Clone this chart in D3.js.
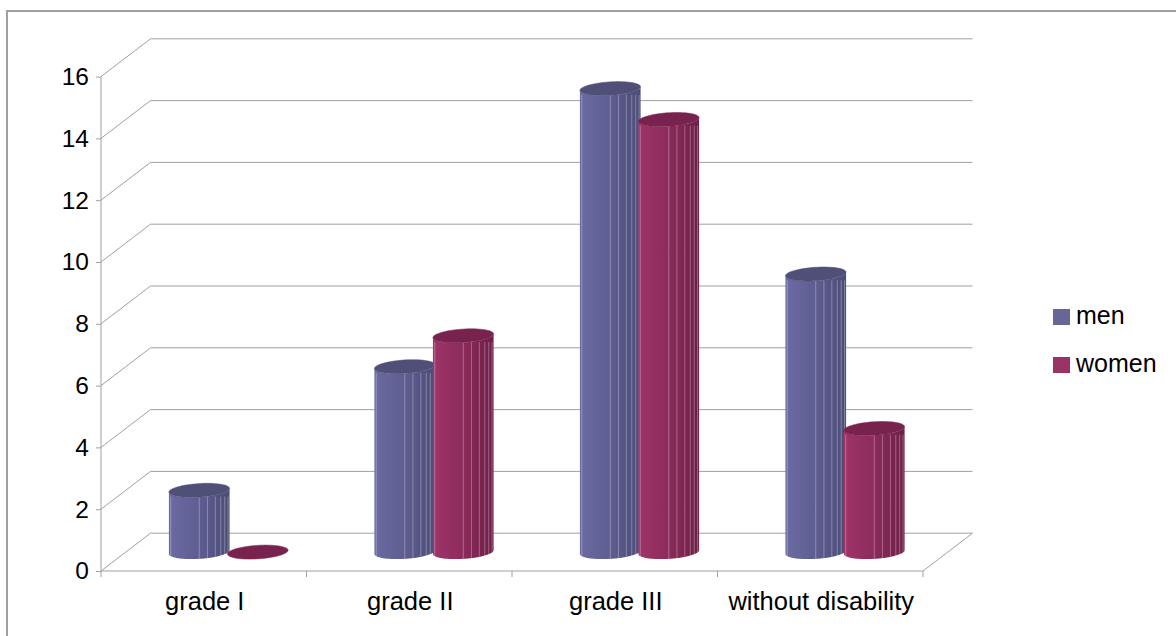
<!DOCTYPE html>
<html>
<head>
<meta charset="utf-8">
<script src="https://cdn.jsdelivr.net/npm/d3@7"></script>
<style>
  html, body { margin: 0; padding: 0; background: #fff; }
  svg { display: block; font-family: "Liberation Sans", Arial, sans-serif; }
</style>
</head>
<body>
<svg id="chart" width="1176" height="636"></svg>
<script>
// Chart data
const categories = ["grade I", "grade II", "grade III", "without disability"];
const seriesNames = ["men", "women"];
const menValues = [2, 6, 15, 9];
const womenValues = [0, 7, 14, 4];
const yTickValues = [0, 2, 4, 6, 8, 10, 12, 14, 16];

const seriesValues = { men: menValues, women: womenValues };

// Colours per series: body gradient stops, top cap, legend swatch
const palette = {
  men:   { light: "#6b6ba3", mid: "#5f5f93", dark: "#4c4c78", top: "#4f4f78", swatch: "#666699" },
  women: { light: "#9f3469", mid: "#8e2c5d", dark: "#6e2047", top: "#78234e", swatch: "#993366" }
};

const svg = d3.select("#chart");

// Outer frame
svg.append("rect")
  .attr("x", 7).attr("y", 11)
  .attr("width", 1250).attr("height", 700)
  .attr("fill", "none")
  .attr("stroke", "#a0a0a0")
  .attr("stroke-width", 2);

// Front plane scales and oblique depth offset of the 3D box
const left = 101, right = 923;
const y = d3.scaleLinear().domain([0, 16]).range([571, 76.6]);
const x0 = d3.scaleBand().domain(categories).range([left, right]).paddingInner(0).paddingOuter(0);
const x1 = d3.scaleBand().domain(seriesNames).range([0, x0.bandwidth()]).paddingInner(0).paddingOuter(0.756);
const depthDx = 49.5, depthDy = -37.8;

const gridColor = "#a0a0a0";

// Back wall gridlines with their diagonal run along the side wall
const grid = svg.append("g").attr("fill", "none").attr("stroke", gridColor).attr("stroke-width", 1);
yTickValues.forEach(v => {
  const yf = y(v);
  grid.append("path")
    .attr("d", `M${left},${yf}L${left + depthDx},${yf + depthDy}L${right + depthDx},${yf + depthDy}`);
});
// Floor front edge and right edge
grid.append("path").attr("d", `M${left},${y(0)}L${right},${y(0)}L${right + depthDx},${y(0) + depthDy}`);

// Y axis line with ticks
const yAxis = d3.axisLeft(y).tickValues(yTickValues).tickSize(5).tickPadding(7).tickFormat(d3.format("d"));
const yg = svg.append("g").attr("transform", `translate(${left},0)`).call(yAxis);
yg.select(".domain").attr("stroke", gridColor).attr("d", `M0,${y(16)}V${y(0)}`);
yg.selectAll(".tick line").attr("stroke", gridColor);
yg.selectAll(".tick text").attr("font-size", 24.5).attr("fill", "#000")
  .attr("font-family", "Liberation Sans, Arial, sans-serif");

// Category ticks on the floor front edge
const catBounds = categories.map(c => x0(c)).concat([right]);
svg.append("g").selectAll("line").data(catBounds).join("line")
  .attr("x1", d => d).attr("x2", d => d)
  .attr("y1", y(0)).attr("y2", y(0) + 6)
  .attr("stroke", gridColor);

svg.append("g").selectAll("text").data(categories).join("text")
  .attr("x", d => x0(d) + x0.bandwidth() / 2 + 1)
  .attr("y", 610)
  .attr("text-anchor", "middle")
  .attr("font-size", 25.5)
  .attr("fill", "#000")
  .text(d => d);

// Gradients for the cylinder bodies
const defs = svg.append("defs");
seriesNames.forEach(s => {
  const g = defs.append("linearGradient").attr("id", "body-" + s)
    .attr("x1", "0%").attr("x2", "100%").attr("y1", "0%").attr("y2", "0%");
  g.append("stop").attr("offset", "0%").attr("stop-color", palette[s].light);
  g.append("stop").attr("offset", "45%").attr("stop-color", palette[s].mid);
  g.append("stop").attr("offset", "100%").attr("stop-color", palette[s].dark);
});

// Cylinders are drawn halfway into the depth of the box
const barDx = depthDx / 2, barDy = depthDy / 2;
const r = x1.bandwidth() / 2;
const skew = 8;   // horizontal shift of the ellipse caused by the oblique projection
const ry = 7;

function ellipsePt(cx, cy, t) {
  return [cx + r * Math.cos(t) + skew * Math.sin(t), cy - ry * Math.sin(t)];
}
function arcPts(cx, cy, t0, t1, n) {
  const pts = [];
  for (let i = 0; i <= n; i++) pts.push(ellipsePt(cx, cy, t0 + (t1 - t0) * i / n));
  return pts;
}
const tRight = Math.atan2(skew, r);
const tLeft = tRight + Math.PI;
const halfW = Math.hypot(r, skew);

// facet edge positions across the front face, as fractions of the half width
const facetOffsets = [-0.94, 0, 0.27, 0.53, 0.71, 0.84, 0.95];

const bars = svg.append("g");
categories.forEach((cat, ci) => {
  seriesNames.forEach(s => {
    const v = seriesValues[s][ci];
    const cx = x0(cat) + x1(s) + x1.bandwidth() / 2 + barDx;
    const cyB = y(0) + barDy;
    const cyT = y(v) + barDy;
    const g = bars.append("g");
    if (v > 0) {
      // body: bottom front arc, right silhouette, top front arc back to the left silhouette
      const bottomFront = arcPts(cx, cyB, tLeft, tRight + 2 * Math.PI, 40);
      const topFront = arcPts(cx, cyT, tRight + 2 * Math.PI, tLeft, 40);
      g.append("path")
        .attr("d", d3.line()(bottomFront.concat(topFront)) + "Z")
        .attr("fill", `url(#body-${s})`);
      facetOffsets.forEach(f => {
        const fx = cx + f * halfW;
        g.append("line")
          .attr("x1", fx).attr("y1", cyT + ry * 0.9)
          .attr("x2", fx).attr("y2", cyB + ry * 0.9)
          .attr("stroke", "#ffffff").attr("stroke-opacity", 0.3).attr("stroke-width", 1);
      });
    }
    // top cap
    const cap = arcPts(cx, cyT, 0, 2 * Math.PI, 60);
    g.append("path")
      .attr("d", d3.line()(cap) + "Z")
      .attr("fill", palette[s].top)
      .attr("stroke", palette[s].top)
      .attr("stroke-width", 0.5);
  });
});

// Legend
const legend = svg.append("g");
seriesNames.forEach((s, i) => {
  const ly = 309 + i * 48;
  legend.append("rect")
    .attr("x", 1053).attr("y", ly)
    .attr("width", 17).attr("height", 16)
    .attr("fill", palette[s].swatch);
  legend.append("text")
    .attr("x", 1076).attr("y", ly + 14.5)
    .attr("font-size", 25)
    .attr("fill", "#000")
    .text(s);
});
</script>
</body>
</html>
